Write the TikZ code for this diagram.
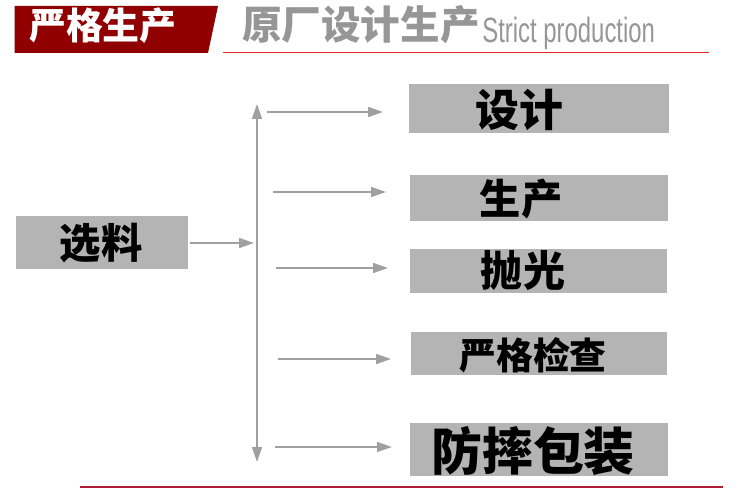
\documentclass[tikz,border=0pt]{standalone}
\usepackage{fontspec}
\setmainfont{Liberation Sans}
\newfontfamily\cjk{Noto Sans CJK SC Black}
\newfontfamily\narrowfont[FakeStretch=0.68]{Liberation Sans}
\usetikzlibrary{arrows.meta}
\definecolor{hdred}{RGB}{145,0,0}
\definecolor{boxgray}{RGB}{180,180,180}
\definecolor{arrgray}{RGB}{160,160,160}
\definecolor{titlegray}{RGB}{150,150,150}
\definecolor{linered}{RGB}{225,35,40}
\definecolor{botred}{RGB}{175,30,55}
\tikzset{
  graybox/.style={fill=boxgray, draw=none, inner sep=0pt},
  boxtext/.style={font=\cjk, text=black, inner sep=0pt},
  arr/.style={draw=arrgray, line width=0.9pt, -{Triangle[length=3mm,width=2mm]}},
  darr/.style={draw=arrgray, line width=0.9pt, {Triangle[length=3mm,width=2mm]}-{Triangle[length=3mm,width=2mm]}}
}
\begin{document}
\begin{tikzpicture}[x=0.02cm,y=-0.02cm]
\useasboundingbox (0,0) rectangle (750,500);
% header
\fill[hdred] (14.5,6) -- (218,6) -- (208,53) -- (14.5,53) -- cycle;
\node[font=\cjk\fontsize{21}{21}\selectfont, text=white, inner sep=0pt, anchor=base] (h1) at (103,40) {严格生产};
\node[font=\cjk\fontsize{22.5}{23}\selectfont, text=titlegray, inner sep=0pt, anchor=base west] (h2) at (242,40) {原厂设计生产};
\node[font=\narrowfont\fontsize{20}{20}\selectfont, text=titlegray, inner sep=0pt, anchor=base west] (h3) at (482,43) {Strict production};
\draw[linered, line width=0.9pt] (223,52.5) coordinate (r1) -- (709,52.5) coordinate (r2);
\draw[botred, line width=1.1pt] (80,487) coordinate (b1) -- (723,487) coordinate (b2);
% boxes
\node[graybox, minimum width=3.44cm, minimum height=1.06cm] (xl) at (102,242.5) {};
\node[boxtext, font=\cjk\fontsize{23.5}{24}\selectfont] (txl) at (101,243) {选料};
\node[graybox, minimum width=5.2cm, minimum height=0.98cm] (b1n) at (539,108.5) {};
\node[boxtext, font=\cjk\fontsize{25}{25}\selectfont] (t1) at (519,110) {设计};
\node[graybox, minimum width=5.16cm, minimum height=0.92cm] (b2n) at (539,198) {};
\node[boxtext, font=\cjk\fontsize{23.5}{24}\selectfont] (t2) at (521,199) {生产};
\node[graybox, minimum width=5.14cm, minimum height=0.88cm] (b3n) at (538.5,271) {};
\node[boxtext, font=\cjk\fontsize{24}{24}\selectfont] (t3) at (523,271) {抛光};
\node[graybox, minimum width=5.12cm, minimum height=0.86cm] (b4n) at (539,353.5) {};
\node[boxtext, font=\cjk\fontsize{21}{21}\selectfont] (t4) at (533,355) {严格检查};
\node[graybox, minimum width=5.16cm, minimum height=1.06cm] (b5n) at (539,449.5) {};
\node[boxtext, font=\cjk\fontsize{29}{29}\selectfont] (t5) at (533,451) {防摔包装};
% connectors
\coordinate (vt) at (257,104);
\coordinate (vb) at (257,462);
\draw[darr] (vt) -- (vb);
\coordinate (x0) at (190,243);
\coordinate (x1) at (254,243);
\draw[arr] (x0) -- (x1);
\coordinate (s1) at (267,112); \coordinate (e1) at (383,112);
\coordinate (s2) at (273,192); \coordinate (e2) at (386,192);
\coordinate (s3) at (276,268); \coordinate (e3) at (388,268);
\coordinate (s4) at (278,359); \coordinate (e4) at (391,359);
\coordinate (s5) at (275,447); \coordinate (e5) at (392,447);
\draw[arr] (s1) -- (e1);
\draw[arr] (s2) -- (e2);
\draw[arr] (s3) -- (e3);
\draw[arr] (s4) -- (e4);
\draw[arr] (s5) -- (e5);
\end{tikzpicture}
\end{document}
